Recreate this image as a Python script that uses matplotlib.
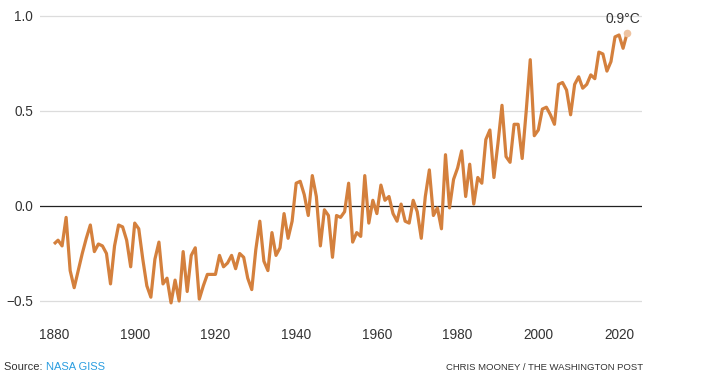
"""Global temperature anomaly line chart (NASA GISS)."""

import matplotlib

matplotlib.use("Agg")
import matplotlib.pyplot as plt
import numpy as np

# --- data ---
start_year = 1880
anomaly = [
    -0.20, -0.18, -0.21, -0.06, -0.34, -0.43, -0.34, -0.25, -0.17, -0.10,  # 1880s
    -0.24, -0.20, -0.21, -0.25, -0.41, -0.21, -0.10, -0.11, -0.18, -0.32,  # 1890s
    -0.09, -0.12, -0.28, -0.42, -0.48, -0.28, -0.19, -0.41, -0.38, -0.51,  # 1900s
    -0.39, -0.50, -0.24, -0.45, -0.26, -0.22, -0.49, -0.42, -0.36, -0.36,  # 1910s
    -0.36, -0.26, -0.32, -0.30, -0.26, -0.33, -0.25, -0.27, -0.38, -0.44,  # 1920s
    -0.23, -0.08, -0.29, -0.34, -0.14, -0.26, -0.22, -0.04, -0.17, -0.08,  # 1930s
    0.12, 0.13, 0.06, -0.05, 0.16, 0.05, -0.21, -0.02, -0.05, -0.27,  # 1940s
    -0.05, -0.06, -0.03, 0.12, -0.19, -0.14, -0.16, 0.16, -0.09, 0.03,  # 1950s
    -0.04, 0.11, 0.03, 0.05, -0.04, -0.08, 0.01, -0.08, -0.09, 0.03,  # 1960s
    -0.03, -0.17, 0.05, 0.19, -0.05, -0.01, -0.12, 0.27, -0.01, 0.14,  # 1970s
    0.20, 0.29, 0.05, 0.22, 0.01, 0.15, 0.12, 0.35, 0.40, 0.15,  # 1980s
    0.33, 0.53, 0.26, 0.23, 0.43, 0.43, 0.25, 0.50, 0.77, 0.37,  # 1990s
    0.40, 0.51, 0.52, 0.48, 0.43, 0.64, 0.65, 0.61, 0.48, 0.64,  # 2000s
    0.68, 0.62, 0.64, 0.69, 0.67, 0.81, 0.80, 0.71, 0.76, 0.89,  # 2010s
    0.90, 0.83, 0.91,  # 2020s
]
years = np.arange(start_year, start_year + len(anomaly))
y_ticks = [-0.5, 0.0, 0.5, 1.0]
y_tick_labels = ["\u22120.5", "0.0", "0.5", "1.0"]
x_ticks = [1880, 1900, 1920, 1940, 1960, 1980, 2000, 2020]
last_label = "0.9°C"
source_label = "Source: "
source_name = "NASA GISS"
credit = "CHRIS MOONEY / THE WASHINGTON POST"

LINE = "#d4803d"
TEXT = "#333333"
GRID = "#dcdcdc"

plt.rcParams["font.family"] = ["Liberation Sans", "DejaVu Sans"]

fig = plt.figure(figsize=(7.13, 3.83), dpi=100)
ax = fig.add_axes((40 / 713, 1 - 320 / 383, 602 / 713, 308 / 383))

ax.plot(years, anomaly, color=LINE, linewidth=2.3, solid_joinstyle="round",
        solid_capstyle="butt", zorder=3)
ax.scatter([years[-1]], [anomaly[-1]], s=30, color="#eec3a0", zorder=4,
           linewidths=0)

for yv in y_ticks:
    if yv == 0:
        ax.axhline(yv, color="#222222", linewidth=0.9, zorder=2)
    else:
        ax.axhline(yv, color=GRID, linewidth=0.9, zorder=1)

ax.set_xlim(1876.53, 2025.69)
ax.set_ylim(-0.6, 1.021)
ax.set_yticks(y_ticks, y_tick_labels)
ax.set_xticks(x_ticks, [str(x) for x in x_ticks])
ax.tick_params(length=0, labelsize=9.8, labelcolor=TEXT)
ax.tick_params(axis="y", pad=5)
ax.tick_params(axis="x", pad=6)
for spine in ax.spines.values():
    spine.set_visible(False)

ax.annotate(last_label, xy=(years[-1], anomaly[-1]), xytext=(-3, 5),
            textcoords="offset points", ha="center", va="bottom",
            fontsize=10, color=TEXT)

src = fig.text(4 / 713, 1 - 367 / 383, source_label, fontsize=8, color=TEXT,
               va="center", ha="left")
ax.annotate(source_name, xy=(1, 0.5), xycoords=src, va="center", ha="left",
            fontsize=8, color="#2a9de0")
fig.text(643 / 713, 1 - 367 / 383, credit, fontsize=6.8, color=TEXT,
         va="center", ha="right",
         family=["Liberation Sans Narrow", "Liberation Sans", "DejaVu Sans"])

fig.savefig("out.png", dpi=100)
